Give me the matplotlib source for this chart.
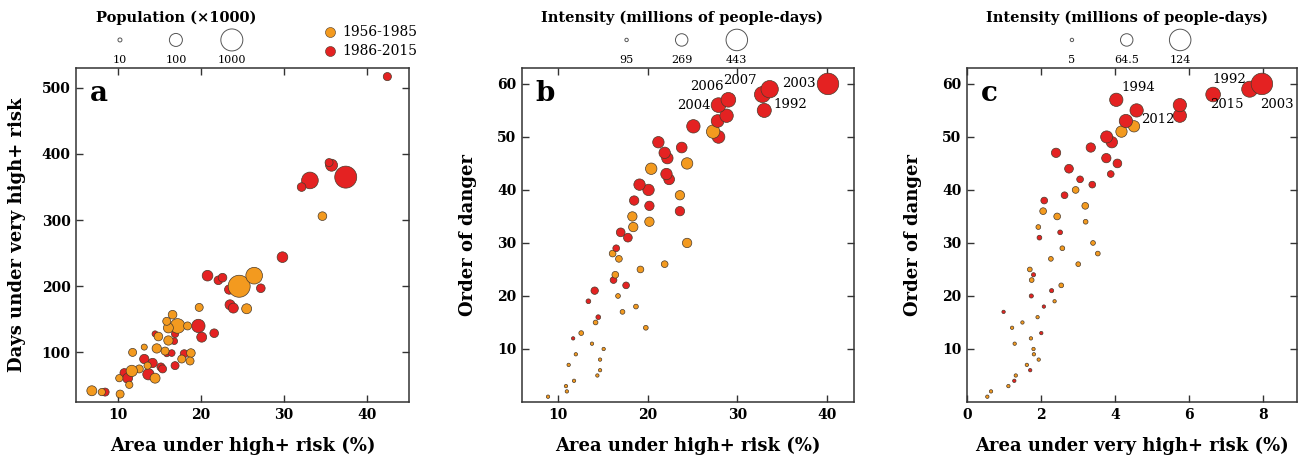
import numpy as np
import matplotlib
matplotlib.use("Agg")
import matplotlib.pyplot as plt

plt.rcParams['font.family'] = ['DejaVu Serif']

ORANGE = '#F39A1F'
RED = '#E42222'
EDGE = '#4a3a2a'
PERIODS = ['1956-1985', '1986-2015']

# ---------------- panel a: area vs days, sized by population ----------------
a_area = [42.4, 35.7, 35.4, 33.1, 32.1, 37.4, 29.8, 20.8, 22.1, 22.6, 23.4, 27.2,
          23.5, 23.9, 19.7, 20.1, 21.6, 16.9, 16.8, 14.5, 15.9, 16.5, 18.0, 16.9,
          13.2, 14.2, 15.2, 15.4, 13.7, 10.8, 11.2, 8.5,
          34.6, 24.6, 26.4, 25.5, 19.8, 17.2, 16.6, 16.1, 15.9, 18.4, 16.1, 14.9,
          13.2, 14.7, 11.8, 15.7, 18.8, 17.7, 18.7, 13.6, 12.6, 11.7, 14.5, 10.2,
          11.4, 6.9, 8.1, 10.3]
a_days = [517, 383, 387, 360, 350, 365, 244, 216, 209, 213, 195, 197,
          172, 167, 140, 123, 129, 128, 117, 128, 98, 99, 98, 80,
          90, 84, 78, 75, 67, 69, 61, 40,
          306, 200, 216, 166, 168, 140, 157, 137, 147, 140, 118, 124,
          108, 106, 100, 102, 99, 90, 87, 80, 75, 72, 61, 61,
          51, 42, 40, 37]
a_pop = [29, 77, 28, 256, 33, 1000, 55, 55, 33, 33, 39, 33,
         46, 46, 109, 46, 33, 23, 20, 17, 17, 20, 28, 28,
         39, 39, 28, 28, 65, 33, 46, 28,
         33, 1000, 256, 46, 28, 153, 33, 46, 28, 28, 39, 33,
         17, 39, 28, 28, 33, 28, 28, 23, 28, 65, 46, 23,
         23, 46, 23, 28]
a_period = [1] * 32 + [0] * 28
a_size_ticks = [10, 100, 1000]

# ---------------- panel b: area vs order of danger, sized by intensity ----------------
b_rank = list(range(1, 61))
b_area = [8.9, 11.0, 10.9, 11.8, 14.4, 14.7, 11.2, 14.7, 12.0, 15.1,
          13.8, 11.7, 12.6, 19.8, 14.2, 14.5, 17.2, 18.7, 13.4, 16.7,
          14.1, 17.6, 16.2, 16.4, 19.2, 21.9, 16.8, 16.1, 16.5, 24.4,
          17.8, 17.0, 18.4, 20.2, 18.3, 23.6, 20.2, 18.5, 23.6, 20.1,
          19.1, 22.4, 22.1, 20.4, 24.4, 22.2, 21.9, 23.8, 21.2, 27.9,
          27.3, 25.1, 27.8, 28.8, 33.0, 27.9, 29.0, 32.8, 33.6, 40.1]
b_intensity = [95, 95, 95, 95, 95, 95, 95, 95, 95, 95,
               95, 95, 121, 121, 121, 121, 121, 121, 121, 121,
               172, 159, 159, 159, 159, 159, 159, 159, 159, 210,
               198, 198, 210, 210, 210, 210, 210, 210, 210, 249,
               249, 236, 249, 249, 249, 249, 249, 236, 249, 274,
               287, 287, 274, 287, 300, 312, 312, 338, 363, 443]
b_period = [0, 0, 0, 0, 0, 0, 0, 0, 0, 0,
            0, 1, 0, 0, 0, 1, 0, 0, 1, 0,
            1, 1, 1, 0, 0, 0, 0, 0, 1, 0,
            1, 1, 0, 0, 0, 1, 1, 1, 0, 1,
            1, 1, 1, 0, 0, 1, 1, 1, 1, 1,
            0, 1, 1, 1, 1, 1, 1, 1, 1, 1]
b_size_ticks = [95, 269, 443]
b_years = ['2003', '2006', '2007', '2004', '1992']
b_year_x = [36.9, 26.6, 30.3, 25.1, 35.9]
b_year_y = [60.0, 59.6, 60.7, 55.9, 56.1]

# ---------------- panel c: very high+ area vs order of danger ----------------
c_rank = list(range(1, 61))
c_area = [0.55, 0.65, 1.12, 1.28, 1.32, 1.71, 1.62, 1.94, 1.81, 1.80,
          1.29, 1.73, 2.01, 1.22, 1.50, 1.91, 0.99, 2.08, 2.37, 1.74,
          2.29, 2.55, 1.75, 1.80, 1.70, 3.01, 2.27, 3.54, 2.58, 3.41,
          1.96, 2.52, 1.93, 3.21, 2.44, 2.06, 3.20, 2.09, 2.64, 2.94,
          3.39, 3.06, 3.89, 2.76, 4.07, 3.77, 2.41, 3.35, 3.92, 3.78,
          4.18, 4.52, 4.30, 5.76, 4.59, 5.76, 4.04, 6.66, 7.65, 7.98]
c_intensity = [5, 5, 5, 5, 5, 5, 5, 5, 5, 5,
               5, 5, 5, 5, 5, 5, 5, 5, 5, 10,
               10, 14, 14, 10, 14, 14, 14, 14, 14, 14,
               14, 14, 14, 14, 27, 27, 27, 27, 27, 27,
               27, 27, 27, 40, 40, 44, 44, 44, 57, 62,
               57, 57, 70, 70, 70, 70, 70, 79, 88, 124]
c_period = [0, 0, 0, 1, 0, 1, 0, 0, 0, 0,
            0, 0, 1, 0, 0, 0, 1, 1, 0, 1,
            1, 0, 0, 1, 0, 0, 0, 0, 0, 0,
            1, 1, 0, 0, 0, 0, 0, 1, 1, 0,
            1, 1, 1, 1, 1, 1, 1, 1, 1, 1,
            0, 0, 1, 1, 1, 1, 1, 1, 1, 1]
c_size_ticks = [5, 64.5, 124]
c_years = ['1994', '2012', '1992', '2015', '2003']
c_year_x = [4.64, 5.17, 7.11, 7.04, 8.40]
c_year_y = [59.4, 53.3, 60.9, 56.2, 56.2]

DPI = 100
D_MIN, D_MAX = 3.4, 21.5  # marker diameters (px) at the ends of each size scale


def diam_to_s(d_px):
    d_pt = np.asarray(d_px, dtype=float) * 72.0 / DPI
    return d_pt ** 2


def size_log(v, ticks):
    lo, hi = np.log10(ticks[0]), np.log10(ticks[-1])
    return diam_to_s(4.0 + (np.log10(v) - lo) * (22.0 - 4.0) / (hi - lo))


def size_lin(v, ticks):
    v = np.asarray(v, dtype=float)
    return diam_to_s(D_MIN + (v - ticks[0]) * (D_MAX - D_MIN) / (ticks[-1] - ticks[0]))


fig = plt.figure(figsize=(12.98, 4.62), dpi=DPI)
W, H = 1298, 462


def make_axes(left_px, right_px):
    top, bottom = 68, 402
    return fig.add_axes([left_px / W, 1 - bottom / H, (right_px - left_px) / W,
                         (bottom - top) / H])


ax_a = make_axes(76, 409)
ax_b = make_axes(522, 854)
ax_c = make_axes(967, 1297)


def style(ax, letter):
    for s in ax.spines.values():
        s.set_linewidth(1.1)
        s.set_color('#333333')
    ax.tick_params(direction='in', length=5, width=1.0, top=True, right=True,
                   color='#333333', labelsize=10, pad=4)
    for lab in ax.get_xticklabels() + ax.get_yticklabels():
        lab.set_fontweight('bold')
    ax.text(0.068, 0.925, letter, transform=ax.transAxes, fontsize=20,
            fontweight='bold', ha='center', va='center')


def scatter(ax, x, y, sizes, period):
    cols = [RED if p else ORANGE for p in period]
    ax.scatter(x, y, s=sizes, c=cols, edgecolors=EDGE, linewidths=0.5, zorder=3)


def size_legend(ax, title, title_x, sizes, xs, labels):
    ax.text(title_x, 1.15, title, transform=ax.transAxes, ha='center',
            va='center', fontsize=10.5, fontweight='bold')
    ax.scatter(xs, [1.084] * 3, s=sizes, facecolors='white', edgecolors='#555555',
               linewidths=0.7, transform=ax.transAxes, clip_on=False)
    for x, lab in zip(xs, labels):
        ax.text(x, 1.024, lab, transform=ax.transAxes, ha='center', va='center',
                fontsize=8)


def labels(ax, xlabel, ylabel, ylab_x):
    ax.set_xlabel(xlabel, fontsize=13, fontweight='bold')
    ax.set_ylabel(ylabel, fontsize=13, fontweight='bold')
    ax.xaxis.set_label_coords(0.5, -0.105)
    ax.yaxis.set_label_coords(ylab_x, 0.5)


# panel a
scatter(ax_a, a_area, a_days, size_log(a_pop, a_size_ticks), a_period)
ax_a.set_xlim(5, 45)
ax_a.set_ylim(25, 530)
ax_a.set_xticks([10, 20, 30, 40])
ax_a.set_yticks([100, 200, 300, 400, 500])
labels(ax_a, 'Area under high+ risk (%)', 'Days under very high+ risk', -0.15)
style(ax_a, 'a')
size_legend(ax_a, 'Population (\u00d71000)', 0.30,
            size_log(a_size_ticks, a_size_ticks), [0.132, 0.30, 0.468],
            [str(t) for t in a_size_ticks])
for i, (lab, col) in enumerate(zip(PERIODS, [ORANGE, RED])):
    yy = 1.108 - i * 0.057
    ax_a.scatter([0.763], [yy], s=diam_to_s(10), c=col, edgecolors=EDGE,
                 linewidths=0.4, transform=ax_a.transAxes, clip_on=False)
    ax_a.text(0.80, yy, lab, transform=ax_a.transAxes, ha='left', va='center',
              fontsize=10)

# panel b
scatter(ax_b, b_area, b_rank, size_lin(b_intensity, b_size_ticks), b_period)
ax_b.set_xlim(6, 43)
ax_b.set_ylim(0, 63)
ax_b.set_xticks([10, 20, 30, 40])
ax_b.set_yticks([10, 20, 30, 40, 50, 60])
labels(ax_b, 'Area under high+ risk (%)', 'Order of danger', -0.135)
style(ax_b, 'b')
size_legend(ax_b, 'Intensity (millions of people-days)', 0.482,
            size_lin(b_size_ticks, b_size_ticks), [0.315, 0.481, 0.647],
            [str(t) for t in b_size_ticks])
for t, x, y in zip(b_years, b_year_x, b_year_y):
    ax_b.text(x, y, t, ha='center', va='center', fontsize=9.5, zorder=4)

# panel c
scatter(ax_c, c_area, c_rank, size_lin(c_intensity, c_size_ticks), c_period)
ax_c.set_xlim(0, 8.93)
ax_c.set_ylim(0, 63)
ax_c.set_xticks([0, 2, 4, 6, 8])
ax_c.set_yticks([10, 20, 30, 40, 50, 60])
labels(ax_c, 'Area under very high+ risk (%)', 'Order of danger', -0.135)
style(ax_c, 'c')
size_legend(ax_c, 'Intensity (millions of people-days)', 0.485,
            size_lin(c_size_ticks, c_size_ticks), [0.318, 0.484, 0.646],
            ['5', '64.5', '124'])
for t, x, y in zip(c_years, c_year_x, c_year_y):
    ax_c.text(x, y, t, ha='center', va='center', fontsize=9.5, zorder=4)

fig.savefig('out.png', dpi=DPI)
